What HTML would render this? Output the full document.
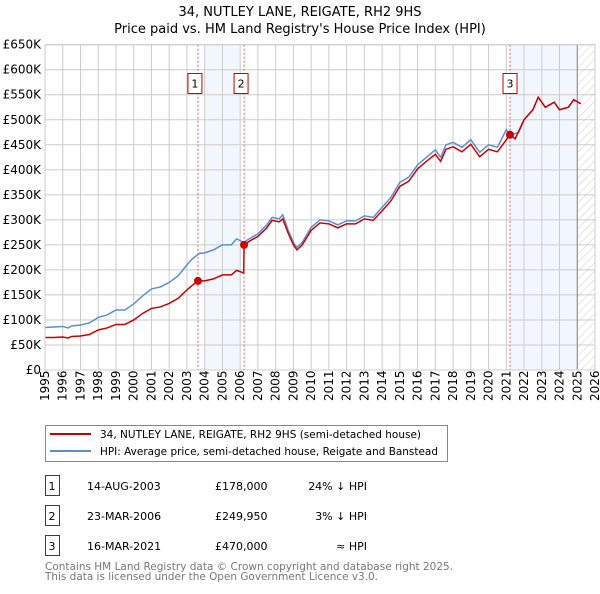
<!DOCTYPE html>
<html><head><meta charset="utf-8"><style>
body{margin:0;background:#fff;font-family:"DejaVu Sans","Liberation Sans",sans-serif}
svg text{font-family:"DejaVu Sans","Liberation Sans",sans-serif}
</style></head><body>
<svg id="chart" width="600" height="590" xmlns="http://www.w3.org/2000/svg">
<defs><pattern id="hatch" width="6" height="6" patternUnits="userSpaceOnUse" patternTransform="rotate(45)"><line x1="0" y1="0" x2="0" y2="6" stroke="#ccc" stroke-width="1"/></pattern></defs>
<text x="300" y="16" text-anchor="middle" font-size="13">34, NUTLEY LANE, REIGATE, RH2 9HS</text>
<text x="300" y="33" text-anchor="middle" font-size="13">Price paid vs. HM Land Registry's House Price Index (HPI)</text>
<g id="plot"></g>
<g>
<rect x="45.5" y="425.5" width="402" height="36" fill="#fff" stroke="#888"/>
<line x1="50" y1="434" x2="91" y2="434" stroke="#cc0000" stroke-width="2"/>
<text x="100" y="438" font-size="11" textLength="321" lengthAdjust="spacingAndGlyphs">34, NUTLEY LANE, REIGATE, RH2 9HS (semi-detached house)</text>
<line x1="50" y1="451" x2="91" y2="451" stroke="#5b8fd0" stroke-width="2"/>
<text x="100" y="455" font-size="11" textLength="338" lengthAdjust="spacingAndGlyphs">HPI: Average price, semi-detached house, Reigate and Banstead</text>
</g>
<g id="table" font-size="11"></g>
<text x="45" y="570" font-size="11" fill="#777" textLength="408" lengthAdjust="spacingAndGlyphs">Contains HM Land Registry data © Crown copyright and database right 2025.</text>
<text x="45" y="580" font-size="11" fill="#777" textLength="333" lengthAdjust="spacingAndGlyphs">This data is licensed under the Open Government Licence v3.0.</text>
</svg>
<script>
const yTicks=[0,50,100,150,200,250,300,350,400,450,500,550,600,650];
const yLabels=["£0","£50K","£100K","£150K","£200K","£250K","£300K","£350K","£400K","£450K","£500K","£550K","£600K","£650K"];
const years=[1995,1996,1997,1998,1999,2000,2001,2002,2003,2004,2005,2006,2007,2008,2009,2010,2011,2012,2013,2014,2015,2016,2017,2018,2019,2020,2021,2022,2023,2024,2025,2026];
const hpiT=[1995,1995.5,1996,1996.3,1996.5,1997,1997.5,1998,1998.5,1999,1999.5,2000,2000.5,2001,2001.5,2002,2002.5,2003,2003.3,2003.7,2004,2004.5,2005,2005.5,2005.8,2006.2,2006.5,2007,2007.5,2007.8,2008.2,2008.4,2008.7,2009,2009.2,2009.5,2010,2010.5,2011,2011.5,2012,2012.5,2013,2013.5,2014,2014.5,2015,2015.5,2016,2016.5,2017,2017.3,2017.6,2018,2018.5,2019,2019.5,2020,2020.5,2021,2021.3,2021.7,2022,2022.5,2022.8,2023.2,2023.7,2024,2024.5,2024.8,2025.2];
const hpiV=[85,86,87,84,88,90,94,105,110,120,120,132,148,162,166,175,188,210,222,233,234,240,250,250,262,255,262,272,290,305,302,310,280,255,245,255,285,300,298,290,298,298,308,305,325,345,375,385,410,425,440,425,450,455,445,460,435,450,445,480,470,475,500,520,545,525,535,520,525,540,532];
const redT=[1995,1995.5,1996,1996.3,1996.5,1997,1997.5,1998,1998.5,1999,1999.5,2000,2000.5,2001,2001.5,2002,2002.5,2003,2003.3,2003.62,2004,2004.5,2005,2005.5,2005.8,2006.2,2006.22,2006.5,2007,2007.5,2007.8,2008.2,2008.4,2008.7,2009,2009.2,2009.5,2010,2010.5,2011,2011.5,2012,2012.5,2013,2013.5,2014,2014.5,2015,2015.5,2016,2016.5,2017,2017.3,2017.6,2018,2018.5,2019,2019.5,2020,2020.5,2021,2021.21,2021.5,2022,2022.5,2022.8,2023.2,2023.7,2024,2024.5,2024.8,2025.2];
const redV=[65,65,66,64,67,68,71,80,84,91,91,100,113,123,126,133,143,160,169,178,178,182,190,190,199,194,250,257,267,284,299,296,302,274,250,240,250,279,294,292,284,292,292,302,299,318,338,367,377,402,417,431,417,441,446,436,451,426,441,436,460,470,462,500,520,545,525,535,520,525,540,532];
const saleT=[2003.62,2006.22,2021.21];
const saleV=[178,249.95,470];
const saleLbl=["1","2","3"];
const saleDate=["14-AUG-2003","23-MAR-2006","16-MAR-2021"];
const salePrice=["£178,000","£249,950","£470,000"];
const saleRel=["24% ↓ HPI","3% ↓ HPI","≈ HPI"];
const shadeBands=[[2004.0,2006.05],[2021.21,2025.0]];

const X0=45,X1=595,Y0=370,Y1=44.7;
const xs=t=>X0+(t-1995)/(2026-1995)*(X1-X0);
const ys=v=>Y0-v/650*(Y0-Y1);
const NS="http://www.w3.org/2000/svg";
const plot=document.getElementById('plot');
function mk(tag,attrs,parent){const e=document.createElementNS(NS,tag);for(const k in attrs)e.setAttribute(k,attrs[k]);(parent||plot).appendChild(e);return e;}

shadeBands.forEach(b=>{const r=mk('rect',{x:xs(b[0]),y:Y1,width:xs(b[1])-xs(b[0]),height:Y0-Y1,fill:'#f2f6fd'});

});
const h=mk('rect',{x:xs(2025),y:Y1,width:X1-xs(2025),height:Y0-Y1,fill:'url(#hatch)'});


yTicks.forEach((v,i)=>{const l=mk('line',{x1:X0,x2:X1,y1:ys(v),y2:ys(v),stroke:'#ccc'});


const t=mk('text',{x:X0-4,y:ys(v)+4,'text-anchor':'end','font-size':12});t.textContent=yLabels[i];

});
years.forEach(yr=>{const x=xs(yr);const l=mk('line',{x1:x,x2:x,y1:Y1,y2:Y0,stroke:'#ccc'});


const t=mk('text',{x:0,y:0,'font-size':12,transform:`translate(${x+4},${Y0+31}) rotate(-90)`});t.textContent=yr;

});
const nowL=mk('line',{x1:xs(2025),x2:xs(2025),y1:Y1,y2:Y0,stroke:'#888'});


saleT.forEach((t,i)=>{const l=mk('line',{x1:xs(t),x2:xs(t),y1:Y1,y2:Y0,stroke:'#e06060','stroke-dasharray':'2,2'});


const bx=xs(t)-7-(i==2?0:3);
const r=mk('rect',{x:bx,y:73.5,width:14,height:20,fill:'#fff',stroke:'#cc0000'});


const tx=mk('text',{x:bx+7,y:87.5,'text-anchor':'middle','font-size':11});tx.textContent=saleLbl[i];

});
const hp=mk('polyline',{points:hpiT.map((t,i)=>xs(t)+','+ys(hpiV[i])).join(' '),fill:'none',stroke:'#5b8fd0','stroke-width':1.5});


const rp=mk('polyline',{points:redT.map((t,i)=>xs(t)+','+ys(redV[i])).join(' '),fill:'none',stroke:'#cc0000','stroke-width':1.5});


saleT.forEach((t,i)=>{const c=mk('circle',{cx:xs(t),cy:ys(saleV[i]),r:4,fill:'#cc0000'});

});
const fr=mk('rect',{x:X0,y:Y1,width:X1-X0,height:Y0-Y1,fill:'none',stroke:'#ccc'});



const tb=document.getElementById('table');
saleT.forEach((t,i)=>{const y=483+i*30;
const r=mk('rect',{x:45.5,y:y-7.5,width:14,height:20,fill:'#fff',stroke:'#cc0000'},tb);


const cells=[[52,saleLbl[i],'middle'],[87,saleDate[i],'start'],[215,salePrice[i],'start'],[367,saleRel[i],'end']];
cells.forEach(c=>{const tx=mk('text',{x:c[0],y:y+7,'text-anchor':c[2],'font-size':11},tb);tx.textContent=c[1];

});});
</script>
</body></html>
